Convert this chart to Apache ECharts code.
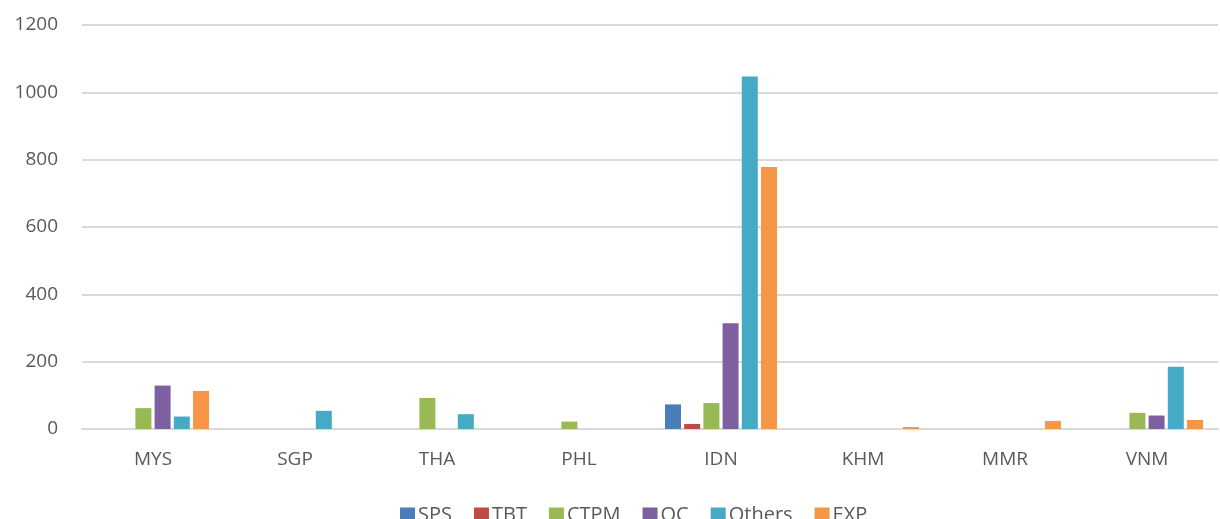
<!DOCTYPE html>
<html>
<head>
<meta charset="utf-8">
<script src="https://cdn.jsdelivr.net/npm/echarts@6/dist/echarts.min.js"></script>
<style>
  html,body{margin:0;padding:0;background:#fff;}
  #main{width:1220px;height:519px;}
</style>
</head>
<body>
<div id="main"></div>
<script>
var countries = ["MYS","SGP","THA","PHL","IDN","KHM","MMR","VNM"];
var sps    = [0, 0, 0, 0, 73, 0, 0, 0];
var tbt    = [0, 0, 0, 0, 15, 0, 0, 0];
var ctpm   = [62, 0, 92, 22, 77, 0, 0, 48];
var qc     = [129, 0, 0, 0, 314, 0, 0, 40];
var others = [37, 54, 44, 0, 1047, 0, 0, 185];
var exp    = [113, 0, 0, 0, 778, 6, 24, 27];

var names = ["SPS","TBT","CTPM","QC","Others","EXP"];
var values = [sps, tbt, ctpm, qc, others, exp];
var colors = ["#4a7ebb","#be4b48","#98b954","#7d60a0","#46aac5","#f79646"];

var myChart = echarts.init(document.getElementById("main"));
var option = {
    animation: false,
    color: colors,
    grid: {left: 82, right: 2, top: 25, bottom: 90, containLabel: false},
    legend: {
        bottom: -11,
        left: 395,
        itemWidth: 15, itemHeight: 15, itemGap: 22,
        icon: 'rect',
        textStyle: {fontFamily: 'Open Sans', fontSize: 20, color: '#595959', padding: [0,0,0,-2]},
        data: names
    },
    xAxis: {
        type: 'category',
        data: countries,
        axisTick: {show: false},
        axisLine: {lineStyle: {color: '#d9d9d9', width: 2}},
        axisLabel: {fontFamily: 'Open Sans', fontSize: 19, color: '#595959', margin: 21}
    },
    yAxis: {
        type: 'value',
        min: 0, max: 1200, interval: 200,
        axisLine: {show: false},
        axisTick: {show: false},
        splitLine: {lineStyle: {color: '#d9d9d9', width: 2}},
        axisLabel: {fontFamily: 'Open Sans', fontSize: 19, color: '#595959', margin: 24,
            formatter: function (v) { return String(v); }}
    },
    series: names.map(function (n, i) {
        return {
            name: n,
            type: 'bar',
            data: values[i],
            barWidth: 16,
            barGap: '20%'
        };
    })
};
myChart.setOption(option);
</script>
</body>
</html>
